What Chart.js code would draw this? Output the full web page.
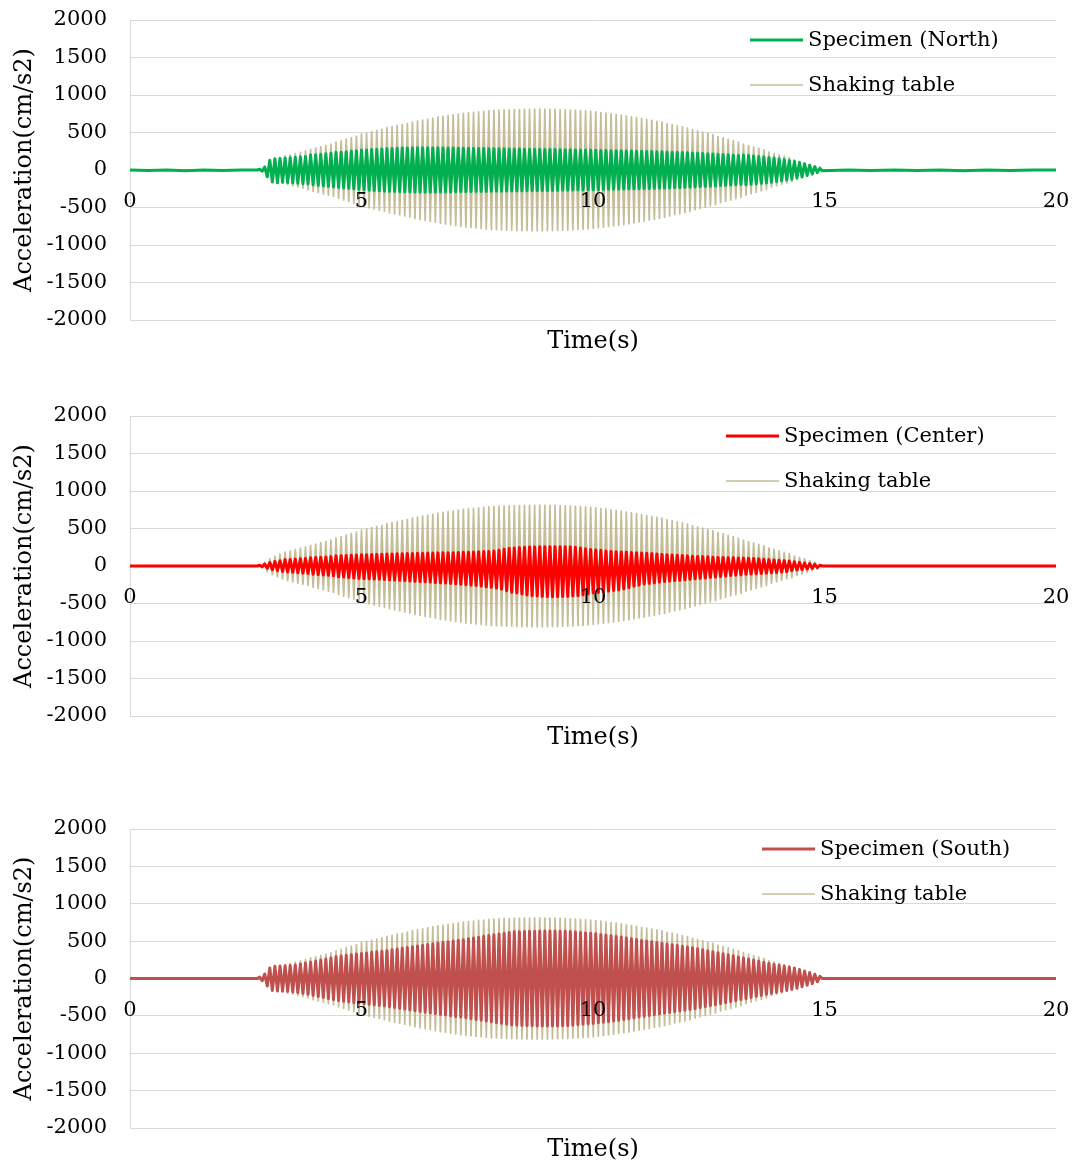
<!DOCTYPE html>
<html>
<head>
<meta charset="utf-8">
<title>Acceleration time history</title>
<script src="https://cdn.jsdelivr.net/npm/chart.js@4.4.1/dist/chart.umd.min.js"></script>
<style>
    html, body { margin: 0; padding: 0; background: #fff; }
    body { width: 1073px; height: 1166px; position: relative; overflow: hidden; }
    .panel { position: absolute; left: 0; width: 1073px; }
</style>
</head>
<body>
<div class="panel" style="top:0;height:370px"><canvas id="north-chart"></canvas></div>
<div class="panel" style="top:396px;height:370px"><canvas id="center-chart"></canvas></div>
<div class="panel" style="top:809px;height:357px"><canvas id="south-chart"></canvas></div>
<script>
// tick labels
var timeTicks = [0, 5, 10, 15, 20];
var accelTicks = [-2000, -1500, -1000, -500, 0, 500, 1000, 1500, 2000];

// quiet parts of the records (s)
var quietTimesBefore = [0, 0.4, 0.8, 1.2, 1.6, 2.0, 2.4, 2.75];
var quietTimesAfter = [14.95, 15.5, 16, 16.5, 17, 17.5, 18, 18.5, 19, 19.5, 20];

// shaking part: one peak every half cycle, starting at peakStart (s)
var peakStart = 2.8;
var halfPeriod = 0.055;

// shaking table (same input for the three records)
var tableBefore = [0, 0, 0, 0, 0, 0, 0, 0];
var tablePeaks = [
    0, -25, 50, -75, 95, -115, 130, -145, 160, -172,
    185, -195, 203, -210, 220, -228, 236, -244, 252, -260,
    275, -285, 292, -302, 310, -318, 327, -336, 344, -352,
    370, -380, 392, -400, 412, -420, 432, -442, 452, -462,
    480, -488, 496, -504, 512, -520, 528, -535, 543, -550,
    565, -571, 578, -585, 592, -598, 605, -612, 619, -626,
    640, -646, 652, -658, 665, -671, 677, -683, 690, -696,
    705, -710, 715, -720, 725, -730, 735, -740, 745, -750,
    755, -759, 762, -766, 769, -772, 776, -779, 782, -785,
    790, -792, 794, -795, 797, -798, 800, -801, 802, -803,
    805, -806, 806, -807, 808, -808, 809, -809, 810, -810,
    810, -810, 809, -809, 808, -807, 807, -806, 805, -804,
    803, -801, 799, -797, 795, -793, 791, -789, 787, -784,
    782, -778, 774, -770, 766, -762, 757, -753, 749, -744,
    740, -735, 730, -725, 720, -715, 709, -703, 697, -691,
    685, -679, 673, -667, 661, -655, 649, -643, 637, -631,
    618, -611, 604, -596, 589, -582, 574, -567, 560, -552,
    537, -529, 521, -512, 504, -496, 487, -479, 470, -462,
    445, -436, 427, -418, 409, -400, 391, -382, 373, -364,
    345, -336, 326, -317, 307, -298, 288, -279, 269, -260,
    240, -230, 221, -211, 202, -192, 183, -173, 164, -154,
    135, -125, 115, -104, 94, -84, 73, -62, 52, -41,
    20
];
var tableAfter = [0, 0, 0, 0, 0, 0, 0, 0, 0, 0, 0];

// specimen (North)
var northBefore = [0, -8, 0, -10, 0, -8, 0, 0];
var northPeaks = [
    10, -15, 40, -90, 130, -160, 150, -170, 155, -165,
    160, -168, 165, -172, 170, -178, 175, -182, 180, -186,
    200, -198, 204, -206, 210, -212, 216, -218, 222, -224,
    235, -232, 238, -240, 244, -246, 250, -251, 255, -258,
    265, -262, 268, -270, 272, -274, 276, -278, 280, -282,
    285, -284, 288, -287, 290, -289, 292, -291, 294, -293,
    295, -294, 296, -295, 297, -296, 296, -297, 295, -296,
    295, -294, 294, -293, 293, -292, 292, -291, 291, -290,
    290, -289, 289, -288, 288, -287, 287, -286, 286, -285,
    285, -284, 284, -283, 283, -282, 282, -281, 281, -280,
    280, -279, 279, -278, 278, -277, 277, -276, 276, -275,
    275, -274, 274, -273, 273, -272, 272, -271, 271, -270,
    270, -269, 269, -268, 268, -267, 267, -266, 266, -265,
    265, -264, 263, -262, 261, -260, 259, -258, 257, -256,
    258, -256, 255, -254, 254, -253, 252, -251, 251, -250,
    250, -249, 248, -247, 246, -245, 244, -243, 242, -241,
    240, -239, 238, -236, 235, -234, 233, -231, 230, -229,
    228, -226, 225, -223, 221, -220, 218, -216, 214, -212,
    210, -208, 206, -204, 202, -200, 198, -196, 194, -192,
    200, -197, 194, -190, 187, -184, 181, -178, 175, -172,
    168, -164, 160, -155, 150, -145, 140, -134, 128, -122,
    115, -108, 100, -92, 83, -74, 64, -54, 44, -34,
    25
];
var northAfter = [-10, 0, -8, 0, -6, 0, -10, 0, -6, 0, 0];

// specimen (Center)
var centerBefore = [0, 0, 0, 0, 0, 0, 0, 0];
var centerPeaks = [
    10, -10, 25, -30, 45, -50, 60, -62, 70, -72,
    85, -80, 88, -84, 92, -90, 96, -95, 100, -100,
    110, -110, 113, -114, 117, -119, 121, -124, 125, -130,
    135, -145, 137, -148, 140, -155, 143, -160, 146, -165,
    150, -170, 151, -171, 153, -173, 155, -176, 157, -180,
    160, -185, 161, -187, 162, -190, 164, -195, 166, -200,
    168, -205, 169, -208, 170, -210, 172, -214, 173, -220,
    175, -225, 176, -228, 177, -232, 178, -238, 180, -244,
    182, -250, 184, -255, 186, -260, 189, -268, 192, -278,
    195, -285, 200, -295, 210, -310, 225, -330, 235, -350,
    240, -360, 245, -372, 250, -385, 253, -395, 255, -400,
    257, -405, 258, -408, 258, -410, 257, -408, 257, -406,
    257, -405, 255, -400, 250, -395, 240, -385, 230, -372,
    220, -360, 215, -352, 210, -345, 200, -335, 195, -325,
    190, -320, 188, -305, 185, -290, 180, -270, 176, -255,
    172, -240, 170, -232, 166, -225, 160, -215, 155, -207,
    150, -200, 147, -195, 143, -190, 140, -183, 135, -177,
    130, -170, 128, -165, 125, -160, 122, -152, 118, -146,
    115, -140, 113, -135, 111, -128, 109, -122, 107, -116,
    105, -110, 102, -107, 99, -104, 95, -100, 90, -95,
    85, -90, 82, -86, 78, -80, 72, -75, 65, -62,
    55, -55, 48, -48, 40, -40, 32, -32, 22, -20,
    10
];
var centerAfter = [0, 0, 0, 0, 0, 0, 0, 0, 0, 0, 0];

// specimen (South)
var southBefore = [0, 0, 0, 0, 0, 0, 0, 0];
var southPeaks = [
    20, -30, 60, -100, 140, -160, 165, -168, 166, -169,
    170, -172, 174, -178, 182, -188, 194, -200, 206, -212,
    220, -226, 233, -240, 247, -254, 261, -268, 275, -282,
    290, -295, 300, -305, 310, -314, 318, -323, 327, -331,
    335, -339, 342, -346, 350, -353, 357, -361, 364, -368,
    372, -377, 383, -388, 393, -399, 404, -409, 414, -420,
    425, -430, 435, -440, 445, -450, 455, -460, 465, -470,
    475, -480, 484, -489, 493, -498, 502, -507, 511, -516,
    520, -526, 531, -537, 542, -548, 553, -559, 564, -570,
    575, -580, 585, -590, 595, -600, 605, -610, 615, -620,
    625, -626, 627, -628, 629, -630, 631, -632, 633, -634,
    635, -635, 636, -636, 635, -635, 634, -634, 633, -633,
    632, -630, 628, -625, 622, -619, 616, -613, 610, -607,
    605, -601, 597, -593, 589, -585, 581, -577, 573, -569,
    565, -560, 554, -549, 543, -538, 532, -527, 521, -516,
    510, -505, 500, -495, 490, -485, 480, -475, 470, -465,
    460, -455, 450, -445, 440, -435, 430, -425, 420, -415,
    410, -403, 397, -390, 384, -377, 371, -364, 358, -351,
    345, -338, 331, -324, 317, -310, 303, -296, 289, -282,
    275, -268, 261, -254, 247, -240, 233, -226, 219, -212,
    205, -198, 192, -185, 179, -172, 166, -159, 153, -146,
    140, -130, 120, -110, 100, -90, 80, -68, 56, -44,
    30
];
var southAfter = [0, 0, 0, 0, 0, 0, 0, 0, 0, 0, 0];

Chart.defaults.font.family = '"DejaVu Serif", serif';
Chart.defaults.color = '#000';

function buildSeries(before, peaks, after) {
    var points = [];
    for (var i = 0; i < quietTimesBefore.length; i++) {
        points.push({ x: quietTimesBefore[i], y: before[i] });
    }
    for (var j = 0; j < peaks.length; j++) {
        points.push({ x: +(peakStart + j * halfPeriod).toFixed(3), y: peaks[j] });
    }
    for (var k = 0; k < quietTimesAfter.length; k++) {
        points.push({ x: quietTimesAfter[k], y: after[k] });
    }
    return points;
}

// legend drawn inside the plot, top right
var insideLegend = {
    id: 'insideLegend',
    afterDatasetsDraw: function (chart, args, opts) {
        var ctx = chart.ctx;
        var top = chart.chartArea.top;
        ctx.save();
        ctx.font = '21px "DejaVu Serif"';
        ctx.textBaseline = 'middle';
        ctx.textAlign = 'left';
        ctx.fillStyle = '#000';
        opts.items.forEach(function (item, i) {
            var y = top + 20 + i * 45;
            ctx.strokeStyle = item.color;
            ctx.lineWidth = item.width;
            ctx.beginPath();
            ctx.moveTo(opts.x - 58, y);
            ctx.lineTo(opts.x - 5, y);
            ctx.stroke();
            ctx.fillText(item.text, opts.x, y + 1);
        });
        ctx.restore();
    }
};

function noPadding(s) {
    s.paddingLeft = 0;
    s.paddingRight = 0;
    s.paddingTop = 0;
    s.paddingBottom = 0;
}

function makePanel(canvasId, label, color, before, peaks, after, legendX, bottomHeight, titlePad) {
    var ctx = document.getElementById(canvasId).getContext('2d');
    return new Chart(ctx, {
        type: 'line',
        data: {
            // first dataset is drawn on top
            datasets: [{
                label: label,
                data: buildSeries(before, peaks, after),
                borderColor: color,
                borderWidth: 3
            }, {
                label: 'Shaking table',
                data: buildSeries(tableBefore, tablePeaks, tableAfter),
                borderColor: '#c4bd97',
                borderWidth: 1.75
            }]
        },
        options: {
            animation: false,
            responsive: true,
            maintainAspectRatio: false,
            parsing: false,
            elements: {
                point: { radius: 0 },
                line: { tension: 0, borderJoinStyle: 'round', borderCapStyle: 'round' }
            },
            layout: { padding: { top: 20, right: 17, bottom: 0, left: 0 } },
            plugins: {
                legend: { display: false },
                tooltip: { enabled: false },
                insideLegend: {
                    x: legendX,
                    items: [
                        { text: label, color: color, width: 3 },
                        { text: 'Shaking table', color: '#c4bd97', width: 1.5 }
                    ]
                }
            },
            scales: {
                x: {
                    type: 'linear',
                    position: { y: 0 },
                    min: 0,
                    max: 20,
                    grid: { display: false, drawTicks: false },
                    border: { display: false },
                    ticks: { padding: 19, z: 1, maxRotation: 0, autoSkip: false, font: { size: 21 } },
                    afterBuildTicks: function (s) { s.ticks = timeTicks.map(function (v) { return { value: v }; }); },
                    afterFit: noPadding
                },
                x2: {
                    type: 'linear',
                    position: 'bottom',
                    min: 0,
                    max: 20,
                    grid: { display: false, drawTicks: false },
                    border: { display: false },
                    ticks: { display: false },
                    title: { display: true, text: 'Time(s)', font: { size: 24 }, padding: { top: 0, bottom: titlePad } },
                    afterFit: function (s) { noPadding(s); s.height = bottomHeight; }
                },
                y: {
                    min: -2000,
                    max: 2000,
                    grid: { color: '#d9d9d9', drawTicks: false },
                    border: { display: true, color: '#d9d9d9' },
                    ticks: { padding: 23, font: { size: 21 }, callback: function (v) { return String(v); } },
                    afterBuildTicks: function (s) { s.ticks = accelTicks.map(function (v) { return { value: v }; }); },
                    title: { display: true, text: 'Acceleration(cm/s2)', font: { size: 24 }, padding: { top: 10, bottom: 0 } },
                    afterFit: function (s) { noPadding(s); s.width = 130; }
                }
            }
        },
        plugins: [insideLegend]
    });
}

makePanel('north-chart', 'Specimen (North)', '#00b050', northBefore, northPeaks, northAfter, 808, 50, 13.6);
makePanel('center-chart', 'Specimen (Center)', '#ff0000', centerBefore, centerPeaks, centerAfter, 784, 50, 13.6);
makePanel('south-chart', 'Specimen (South)', '#c0504d', southBefore, southPeaks, southAfter, 820, 38, 1.6);
</script>
</body>
</html>
